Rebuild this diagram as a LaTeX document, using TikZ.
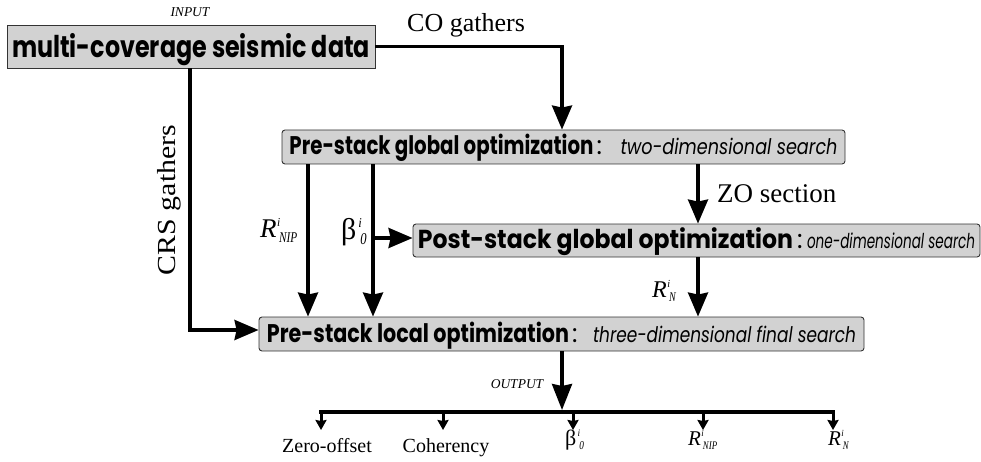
\documentclass[tikz,border=0pt]{standalone}
\usepackage{fontspec}
\usepackage{graphicx}
\setmainfont{Liberation Serif}
\newfontfamily\pop{Poppins}
\usetikzlibrary{arrows.meta}
\definecolor{boxgray}{RGB}{210,210,210}
\newcommand\supsub[4][0.02em]{#2\rlap{\kern#1\raisebox{0.40em}{\scalebox{0.42}[0.45]{\itshape #3}}}\kern0.07em\kern#1\raisebox{-0.2em}{\scalebox{0.42}[0.55]{\itshape #4}}}
\newcommand\fs[1]{\fontsize{#1}{#1}\selectfont}
\begin{document}
\begin{tikzpicture}[x=1pt,y=-1pt,
  arr/.style={line width=3.2pt, -{Stealth[length=24pt,width=20pt,inset=2pt]}},
  bigarr/.style={line width=3.2pt, -{Stealth[length=26pt,width=20pt,inset=2pt]}},
  smallarr/.style={line width=3pt, -{Stealth[length=10pt,width=11pt,inset=1pt]}},
  bus/.style={line width=3.2pt, line cap=rect},
  box/.style={draw=black!80, line width=0.9pt, fill=boxgray, rounded corners=3pt,
    inner sep=0pt, text height=16pt, text depth=0pt},
  serif/.style={inner sep=0pt, font=\fs{26}},
  small/.style={inner sep=0pt, font=\itshape\fs{13.5}},
  outlbl/.style={inner sep=0pt, anchor=base, font=\fs{20}},
  mathlbl/.style={inner sep=0pt, anchor=base west}]
\useasboundingbox (0,0) rectangle (981,462);

% boxes
\node[box, rounded corners=0pt, minimum width=368pt, minimum height=43pt, text height=23pt] (in) at (191,46.5)
  {\pop\bfseries\fs{30}\resizebox{358pt}{\height}{multi-coverage seismic data}};
\node[box, minimum width=563pt, minimum height=34pt] (psg) at (563.5,147)
  {\pop\fs{25.5}\resizebox{304pt}{\height}{\bfseries Pre-stack global optimization}\makebox[27pt][l]{\kern3pt:}\fs{21.5}\resizebox{217pt}{\height}{\itshape two-dimensional search}};
\node[box, minimum width=567pt, minimum height=33pt, text height=15pt] (post) at (696.5,240.5)
  {\pop\fs{26}\resizebox{375pt}{\height}{\bfseries Post-stack global optimization}\makebox[14pt][l]{\kern4pt:}\fs{20.5}\resizebox{168pt}{\height}{\itshape one-dimensional search}};
\node[box, minimum width=605pt, minimum height=34pt] (loc) at (561.5,334)
  {\pop\fs{25.5}\resizebox{302pt}{\height}{\bfseries Pre-stack local optimization}\makebox[24pt][l]{\kern3pt:}\fs{21.5}\resizebox{263pt}{\height}{\itshape three-dimensional final search}};

% labels
\node[small] (inp) at (190,12) {INPUT};
\node[small] (outp) at (517,384) {OUTPUT};
\node[serif, anchor=base west] (cog) at (407,32) {CO gathers};
\node[serif, anchor=base west, font=\fs{27}] (zos) at (717,203) {ZO section};
\node[serif, rotate=90, anchor=base] (crs) at (175,200) {\resizebox{150pt}{\height}{CRS gathers}};
\node[mathlbl, font=\itshape\fs{27}] (rnip) at (260,237) {\supsub{R}{i}{NIP}};
\node[mathlbl, font=\fs{30}] (beta) at (341,239) {\supsub[0.06em]{β}{i}{0}};
\node[mathlbl, font=\itshape\fs{24}] (rn) at (652,297) {\supsub{R}{i}{N}};

\node[outlbl] (zo) at (327,452) {Zero-offset};
\node[outlbl] (coh) at (446,452) {Coherency};
\node[mathlbl, font=\fs{22}] (obeta) at (565,445) {\supsub[0.06em]{β}{i}{0}};
\node[mathlbl, font=\itshape\fs{21}] (onip) at (688,445) {\supsub{R}{i}{NIP}};
\node[mathlbl, font=\itshape\fs{21}] (orn) at (828,445) {\supsub{R}{i}{N}};

% coordinates
\coordinate (xco) at (562,0);
\coordinate (xcrs) at (190,0);
\coordinate (xnip) at (308,0);
\coordinate (xbeta) at (373,0);
\coordinate (xzo) at (698,0);
\coordinate (bj) at (373,238);
\coordinate (otip) at (562,410);
\coordinate (o1) at (321,412);
\coordinate (o2) at (443,412);
\coordinate (o3) at (573,412);
\coordinate (o4) at (703,412);
\coordinate (o5) at (833,412);
\coordinate (t1) at (321,430);
\coordinate (t2) at (443,430);
\coordinate (t3) at (573,430);
\coordinate (t4) at (703,430);
\coordinate (t5) at (833,430);

% connectors
\draw[arr] (in.east) -| (xco |- psg.north);
\draw[arr] (xcrs |- in.south) |- ([yshift=4pt]loc.west);
\draw[arr] (xnip |- psg.south) -- (xnip |- loc.north);
\draw[arr] (xbeta |- psg.south) -- (xbeta |- loc.north);
\draw[arr] (bj) -- (bj -| post.west);
\draw[arr] (xzo |- psg.south) -- (xzo |- post.north);
\draw[arr] (xzo |- post.south) -- (xzo |- loc.north);
\draw[bigarr] (xco |- loc.south) -- (otip);
\draw[bus] (o1) -- (o5);
\draw[smallarr] (o1) -- (t1);
\draw[smallarr] (o2) -- (t2);
\draw[smallarr] (o3) -- (t3);
\draw[smallarr] (o4) -- (t4);
\draw[smallarr] (o5) -- (t5);
\end{tikzpicture}
\end{document}
